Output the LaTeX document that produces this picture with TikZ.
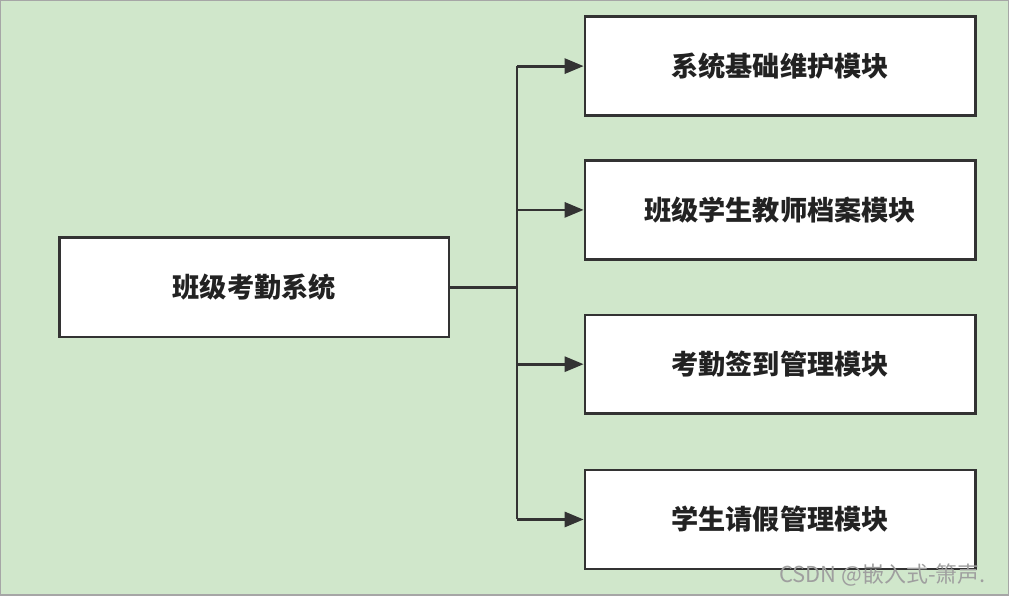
\documentclass[tikz,border=0pt]{standalone}
\usepackage{fontspec}
\setmainfont{Noto Sans CJK SC}
\newfontfamily\cjk{Noto Sans CJK SC}
\usepackage{xcolor}
\usetikzlibrary{arrows.meta,positioning,calc}
\definecolor{bggreen}{HTML}{D0E7CB}
\definecolor{linegray}{HTML}{333333}
\definecolor{textdark}{HTML}{222222}
\tikzset{
	modbox/.style={draw=linegray, fill=white, line width=1.4pt, align=center, text=textdark,
		minimum width=7.82cm, minimum height=1.98cm, font=\cjk\bfseries\fontsize{15.5}{18}\selectfont},
	branch/.style={line width=1.6pt, draw=linegray},
	arrow/.style={branch, -{Triangle[length=0.38cm,width=0.3cm]}},
}

\begin{document}
\begin{tikzpicture}

	%% ── background ───────────────────────────────────────────────
	\fill[bggreen] (0,0) rectangle (20.18,11.9);
	\draw[gray!70, line width=0.8pt] (0,0) rectangle (20.18,11.9);
	\useasboundingbox (0,0) rectangle (20.18,11.9);

	%% ── root node ────────────────────────────────────────────────
	\node[modbox, minimum width=7.8cm, minimum height=2cm] (root) at (5.08,6.16) {班级考勤系统};

	%% ── module nodes ─────────────────────────────────────────────
	\node[modbox] (base) at (15.61,10.59) {系统基础维护模块};
	\node[modbox] (file) at (15.61,7.71)  {班级学生教师档案模块};
	\node[modbox] (sign) at (15.61,4.62)  {考勤签到管理模块};
	\node[modbox] (leave) at (15.61,1.51) {学生请假管理模块};

	%% ── trunk ────────────────────────────────────────────────────
	\coordinate (fork) at (10.34,6.16);
	\draw[branch] (root.east) -- (fork);
	\draw[branch] (fork |- base.west) -- (fork |- leave.west);

	\foreach \m in {base,file,sign,leave}
		\draw[arrow] (fork |- \m.west) -- (\m.west);

	%% ── watermark ────────────────────────────────────────────────
	\node[anchor=east, text=gray!75, font=\cjk\fontsize{12.5}{13}\selectfont] (mark) at (19.85,0.4) {CSDN @嵌入式-箫声.};

\end{tikzpicture}
\end{document}
